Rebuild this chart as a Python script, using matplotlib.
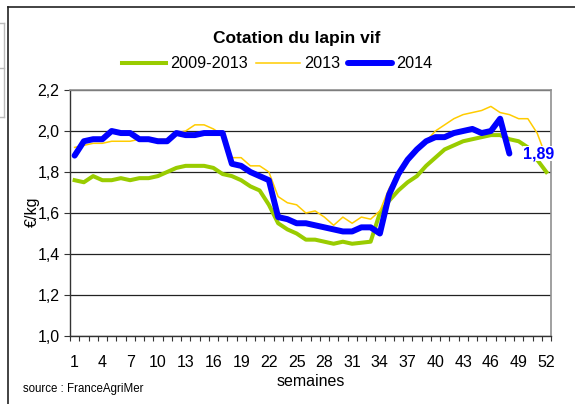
"""
Cotation du lapin vif: weekly price 2009-2013 average, 2013 and 2014.
Output: out.png (575x404)
"""

import matplotlib.pyplot as plt
import numpy as np
from matplotlib.lines import Line2D

plt.rcParams["font.family"] = ["Liberation Sans", "DejaVu Sans"]

WEEKS = list(range(1, 53))
TICK_WEEKS = WEEKS[::3]

AVG_2009_2013 = [
    1.76, 1.75, 1.78, 1.76, 1.76, 1.77, 1.76, 1.77, 1.77, 1.78,
    1.80, 1.82, 1.83, 1.83, 1.83, 1.82, 1.79, 1.78, 1.76, 1.73,
    1.71, 1.64, 1.55, 1.52, 1.50, 1.47, 1.47, 1.46, 1.45, 1.46,
    1.45, 1.455, 1.46, 1.60, 1.66, 1.71, 1.75, 1.78, 1.83, 1.87,
    1.91, 1.93, 1.95, 1.96, 1.97, 1.98, 1.98, 1.96, 1.95, 1.92,
    1.86, 1.80,
]
Y2013 = [
    1.92, 1.93, 1.94, 1.94, 1.95, 1.95, 1.95, 1.96, 1.96, 1.96,
    1.96, 1.99, 2.00, 2.03, 2.03, 2.01, 1.98, 1.87, 1.87, 1.83,
    1.83, 1.80, 1.68, 1.65, 1.64, 1.60, 1.61, 1.58, 1.54, 1.58,
    1.55, 1.58, 1.57, 1.61, 1.72, 1.80, 1.86, 1.90, 1.95, 2.00,
    2.03, 2.06, 2.08, 2.09, 2.10, 2.12, 2.09, 2.08, 2.06, 2.06,
    1.99, 1.87,
]
Y2014 = [
    1.88, 1.95, 1.96, 1.96, 2.00, 1.99, 1.99, 1.96, 1.96, 1.95,
    1.95, 1.99, 1.98, 1.98, 1.99, 1.99, 1.99, 1.84, 1.83, 1.80,
    1.78, 1.76, 1.58, 1.57, 1.55, 1.55, 1.54, 1.53, 1.52, 1.51,
    1.51, 1.53, 1.53, 1.50, 1.69, 1.79, 1.86, 1.91, 1.95, 1.97,
    1.97, 1.99, 2.00, 2.01, 1.99, 2.00, 2.06, 1.89,
]
LAST_LABEL = "1,89"

GREEN = "#99CC00"
YELLOW = "#FFCC00"
BLUE = "#0000FF"


def main() -> None:
    fig = plt.figure(figsize=(5.75, 4.04), dpi=100)
    ax = fig.add_axes([70 / 575, 1 - 336 / 404, 481 / 575, 246 / 404])

    ax.plot(WEEKS, AVG_2009_2013, color=GREEN, lw=2.9, solid_joinstyle="round", zorder=3)
    ax.plot(WEEKS, Y2013, color=YELLOW, lw=1.1, zorder=4)
    ax.plot(WEEKS[: len(Y2014)], Y2014, color=BLUE, lw=4.3,
            solid_joinstyle="round", solid_capstyle="round", zorder=5)

    ax.text(51.2, 1.89, LAST_LABEL, color=BLUE, fontsize=11.5, fontweight="bold",
            ha="center", va="center", zorder=6,
            bbox=dict(facecolor="white", edgecolor="none", pad=0))

    ax.set_xlim(0.5, 52.5)
    ax.set_ylim(1.0, 2.2)
    ax.set_yticks(np.arange(1.0, 2.21, 0.2))
    ax.set_yticklabels([f"{v:.1f}".replace(".", ",") for v in np.arange(1.0, 2.21, 0.2)])
    ax.set_xticks(TICK_WEEKS)
    ax.set_xticks(np.arange(0.5, 53, 1.0), minor=True)
    ax.tick_params(axis="x", which="major", length=0, pad=14, labelsize=11.5)
    ax.tick_params(axis="x", which="minor", length=3.5, width=0.8, color="#333333", direction="out")
    ax.tick_params(axis="y", length=4, width=0.8, color="#333333", pad=3.5, labelsize=11.5)

    ax.yaxis.grid(True, color="#222222", lw=0.9)
    ax.set_axisbelow(True)
    for side in ("top", "right"):
        ax.spines[side].set_color("#909090")
        ax.spines[side].set_linewidth(1.2)
    for side in ("left", "bottom"):
        ax.spines[side].set_color("#333333")
        ax.spines[side].set_linewidth(1.0)

    fig.text(32 / 575, 1 - 212 / 404, "€/kg", rotation=90, fontsize=11.5,
             ha="center", va="center")
    fig.text(311 / 575, 1 - 382 / 404, "semaines", fontsize=11.5, ha="center", va="center")
    fig.text(23 / 575, 1 - 389 / 404, "source : FranceAgriMer", fontsize=8.3,
             ha="left", va="center")
    fig.text(297 / 575, 1 - 38 / 404, "Cotation du lapin vif", fontsize=12.5,
             fontweight="bold", ha="center", va="center")

    handles = [
        Line2D([], [], color=GREEN, lw=2.9),
        Line2D([], [], color=YELLOW, lw=1.1),
        Line2D([], [], color=BLUE, lw=4.3, solid_capstyle="round"),
    ]
    fig.legend(handles, ["2009-2013", "2013", "2014"], ncol=3, frameon=False,
               loc="center", bbox_to_anchor=(277 / 575, 1 - 64 / 404),
               fontsize=11.7, handlelength=2.7, handletextpad=0.25,
               columnspacing=0.5, borderpad=0)

    # outer chart border (left and top) and the grey box at the far left
    fig.add_artist(Line2D([8 / 575, 8 / 575], [0, 1 - 7 / 404], color="#222222",
                          lw=1.2, transform=fig.transFigure))
    fig.add_artist(Line2D([8 / 575, 1], [1 - 7 / 404, 1 - 7 / 404], color="#222222",
                          lw=1.2, transform=fig.transFigure))
    fig.add_artist(Line2D([4 / 575, 4 / 575], [1 - 23 / 404, 1 - 117 / 404],
                          color="#bbbbbb", lw=1, transform=fig.transFigure))
    for y in (23, 68, 117):
        fig.add_artist(Line2D([0, 4 / 575], [1 - y / 404, 1 - y / 404],
                              color="#bbbbbb", lw=1, transform=fig.transFigure))

    fig.savefig("out.png", dpi=100)
    plt.close(fig)


if __name__ == "__main__":
    main()
